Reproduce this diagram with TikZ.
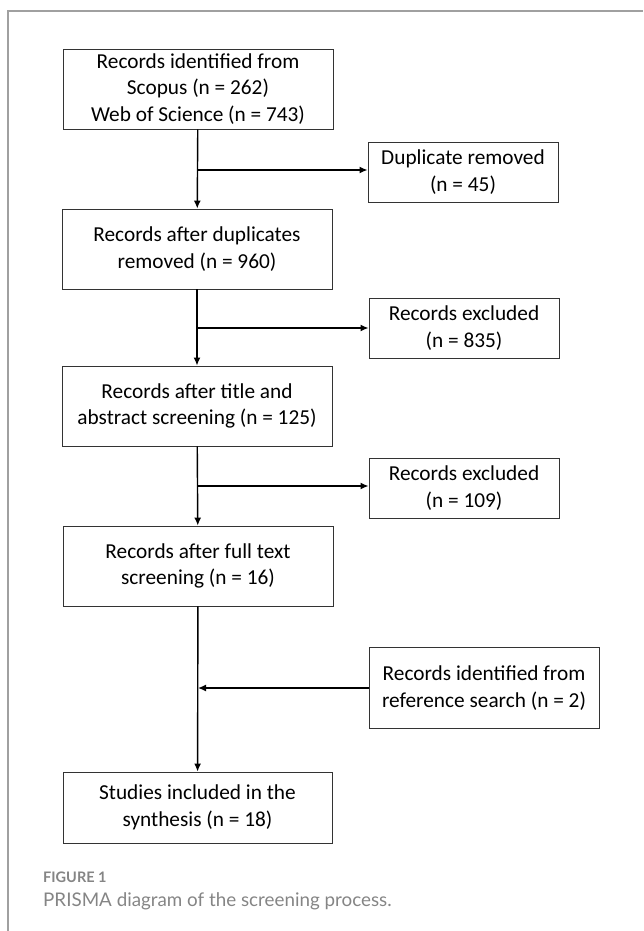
\documentclass[tikz,border=0pt]{standalone}
\usepackage{fontspec}
\setmainfont{Carlito}
\newfontfamily\capfont{Lato}
\usetikzlibrary{arrows.meta}
\definecolor{framegray}{HTML}{A0A0A0}
\definecolor{capgray}{HTML}{858585}
\tikzset{
  box/.style={draw=black!80, line width=0.9pt, align=center, inner sep=0pt,
    font=\fontsize{21.3}{26.5}\selectfont},
  flow/.style={line width=1.4pt, -{Latex[length=8pt,width=7pt]}}
}
\begin{document}
\begin{tikzpicture}[x=1pt,y=-1pt]
  \useasboundingbox (0,0) rectangle (643,931);
  % frame of the figure panel
  \draw[framegray, line width=1.5pt] (8,931) -- (8,11) -- (643,11);
  \draw
    (198,89) node[box, minimum width=270pt, minimum height=80pt] (ident)
      {Records identified from\\Scopus (n = 262)\\Web of Science (n = 743)}
    (463,172) node[box, minimum width=190pt, minimum height=60pt] (dup)
      {Duplicate removed\\(n = 45)}
    (197,249) node[box, minimum width=270pt, minimum height=80pt] (afterdup)
      {Records after duplicates\\removed (n = 960)}
    (464,328) node[box, minimum width=190pt, minimum height=60pt] (exclA)
      {Records excluded\\(n = 835)}
    (197,406) node[box, minimum width=270pt, minimum height=80pt] (aftertitle)
      {Records after title and\\abstract screening (n = 125)}
    (464,488) node[box, minimum width=190pt, minimum height=60pt] (exclB)
      {Records excluded\\(n = 109)}
    (198,566) node[box, minimum width=270pt, minimum height=80pt] (afterfull)
      {Records after full text\\screening (n = 16)}
    (484,688) node[box, minimum width=230pt, minimum height=81pt] (refsearch)
      {Records identified from\\reference search (n = 2)}
    (197.5,807.5) node[box, minimum width=269pt, minimum height=71pt] (included)
      {Studies included in the\\synthesis (n = 18)};
  \coordinate (jA) at (198,170);
  \coordinate (jB) at (197,328);
  \coordinate (jC) at (197,486);
  \coordinate (jD) at (198,688);
  \begin{scope}[flow]
    \draw (ident) to (afterdup);
    \draw (afterdup) to (aftertitle);
    \draw (aftertitle) to (afterfull);
    \draw (afterfull) to (included);
    \draw (jA) to (jA -| dup.west);
    \draw (jB) to (jB -| exclA.west);
    \draw (jC) to (jC -| exclB.west);
    \draw (refsearch) to (jD);
  \end{scope}
  % caption
  \node[anchor=base west, inner sep=0pt, text=capgray,
    font=\capfont\bfseries\fontsize{14.5}{17}\selectfont] (figlabel) at (43,882) {FIGURE 1};
  \node[anchor=base west, inner sep=0pt, text=capgray,
    font=\capfont\fontsize{18.8}{23}\selectfont] (figcap) at (43,906)
    {PRISMA diagram of the screening process.};
\end{tikzpicture}
\end{document}
